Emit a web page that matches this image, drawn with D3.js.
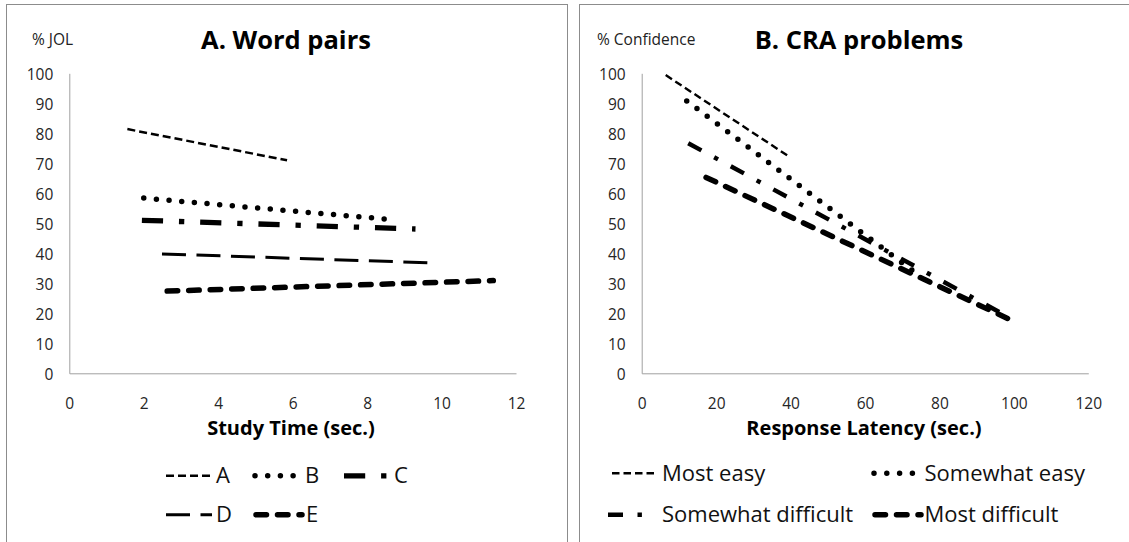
<!DOCTYPE html>
<html>
<head>
<meta charset="utf-8">
<script src="https://cdn.jsdelivr.net/npm/d3@7"></script>
<style>
  body { margin: 0; background: #fff; }
  svg { display: block; font-family: "Open Sans", sans-serif; }
</style>
</head>
<body>
<svg id="chart" width="1129" height="542"></svg>
<script>
// ---- Panel A: word pairs (JOL by study time) ----
const wordLabels = ["A", "B", "C", "D", "E"];
const wordStudyTime = [[1.56, 5.85], [2.0, 8.5], [1.95, 9.3], [2.49, 9.75], [2.63, 11.39]];
const wordJOL = [[81.4, 71.0], [58.4, 51.4], [51.0, 48.1], [39.8, 36.8], [27.4, 30.9]];
const wordXTicks = [0, 2, 4, 6, 8, 10, 12];

// ---- Panel B: CRA problems (confidence by response latency) ----
const craLabels = ["Most easy", "Somewhat easy", "Somewhat difficult", "Most difficult"];
const craLatency = [[6.45, 39.4], [12.1, 73], [12.5, 98.5], [17.3, 98.3]];
const craConfidence = [[99.4, 72.4], [90.8, 34.0], [76.7, 18.8], [65.3, 18.3]];
const craXTicks = [0, 20, 40, 60, 80, 100, 120];

const yTicks = [0, 10, 20, 30, 40, 50, 60, 70, 80, 90, 100];

// Stroke patterns for each series
const wordStyles = [
  { w: 2.5, dash: "8,4", cap: "butt" },
  { w: 5.5, dash: "0,12.7", cap: "round" },
  { w: 5.3, dash: "21.2,15.9,5.3,15.9", cap: "butt" },
  { w: 3, dash: "24,10.5", cap: "butt" },
  { w: 5.5, dash: "10.5,11", cap: "round" }
];
const craStyles = [
  { w: 2.4, dash: "7.5,4", cap: "butt" },
  { w: 5.5, dash: "0,12.8", cap: "round" },
  { w: 4.4, dash: "15,14.5,4.4,14.5", cap: "butt" },
  { w: 5.5, dash: "10.5,11", cap: "round" }
];

const svg = d3.select("#chart");

// panel frames
svg.append("rect").attr("x", 6.5).attr("y", 4.5).attr("width", 561).attr("height", 600)
  .attr("fill", "none").attr("stroke", "#8c8c8c").attr("stroke-width", 1);
svg.append("rect").attr("x", 579.5).attr("y", 4.5).attr("width", 600).attr("height", 600)
  .attr("fill", "none").attr("stroke", "#8c8c8c").attr("stroke-width", 1);

function drawPanel(cfg) {
  const x = d3.scaleLinear().domain(cfg.xDomain).range(cfg.xRange);
  const y = d3.scaleLinear().domain([0, 100]).range([373.3, 73.3]);
  const g = svg.append("g");

  // y axis
  const ya = g.append("g").attr("transform", `translate(${cfg.xRange[0]},0)`)
    .call(d3.axisLeft(y).tickValues(yTicks).tickSize(0).tickPadding(16).tickSizeOuter(0));
  ya.select(".domain").attr("stroke", "#a0a0a0");
  ya.selectAll("text").attr("font-family", "Open Sans").attr("font-size", 15.5)
    .attr("fill", "#262626").attr("dy", "0.37em");

  // x axis
  const xa = g.append("g").attr("transform", `translate(0,${y(0)})`)
    .call(d3.axisBottom(x).tickValues(cfg.xTicks).tickSize(0).tickPadding(36).tickSizeOuter(0));
  xa.select(".domain").attr("stroke", "#a0a0a0");
  xa.selectAll("text").attr("font-family", "Open Sans").attr("font-size", 15.5)
    .attr("fill", "#262626").attr("dy", null);

  // titles
  g.append("text").attr("x", cfg.yLabelX).attr("y", 45).attr("font-size", 15.5)
    .attr("fill", "#222").text(cfg.yLabel);
  g.append("text").attr("x", cfg.titleX).attr("y", 49.3).attr("text-anchor", "middle")
    .attr("font-size", 25.5).attr("font-weight", "bold").attr("fill", "#000").text(cfg.title);
  g.append("text").attr("x", cfg.xLabelX).attr("y", 435).attr("text-anchor", "middle")
    .attr("font-size", 20).attr("font-weight", "bold").attr("fill", "#000").text(cfg.xLabel);

  // series lines
  const line = d3.line().x(d => x(d[0])).y(d => y(d[1]));
  cfg.labels.forEach((lab, i) => {
    const pts = cfg.xs[i].map((v, j) => [v, cfg.ys[i][j]]);
    const s = cfg.styles[i];
    g.append("path").datum(pts).attr("d", line)
      .attr("fill", "none").attr("stroke", "#000")
      .attr("stroke-width", s.w).attr("stroke-dasharray", s.dash)
      .attr("stroke-linecap", s.cap);
  });

  // legend: [sample start x, text x, text baseline]
  cfg.labels.forEach((lab, i) => {
    const p = cfg.legendPos[i];
    const s = cfg.styles[i];
    g.append("line").attr("x1", p[0]).attr("x2", p[0] + 46).attr("y1", p[2] - 7.5).attr("y2", p[2] - 7.5)
      .attr("stroke", "#000").attr("stroke-width", s.w).attr("stroke-dasharray", s.dash)
      .attr("stroke-linecap", s.cap);
    g.append("text").attr("x", p[1]).attr("y", p[2])
      .attr("font-size", 22).attr("fill", "#111").text(lab);
  });
}

drawPanel({
  xDomain: [0, 12], xRange: [69.3, 516], xTicks: wordXTicks,
  xs: wordStudyTime, ys: wordJOL, labels: wordLabels, styles: wordStyles,
  yLabel: "% JOL", yLabelX: 32, title: "A. Word pairs", titleX: 286,
  xLabel: "Study Time (sec.)", xLabelX: 291,
  legendPos: [[166, 216, 483.3], [255, 305, 483.3], [344, 394, 483.3], [166, 216, 522.3], [256, 306, 522.3]]
});

drawPanel({
  xDomain: [0, 120], xRange: [641.7, 1088.3], xTicks: craXTicks,
  xs: craLatency, ys: craConfidence, labels: craLabels, styles: craStyles,
  yLabel: "% Confidence", yLabelX: 597, title: "B. CRA problems", titleX: 859,
  xLabel: "Response Latency (sec.)", xLabelX: 864,
  legendPos: [[612, 662, 480.7], [874, 924.5, 480.7], [608, 662, 522.3], [875, 924.5, 522.3]]
});
</script>
</body>
</html>
